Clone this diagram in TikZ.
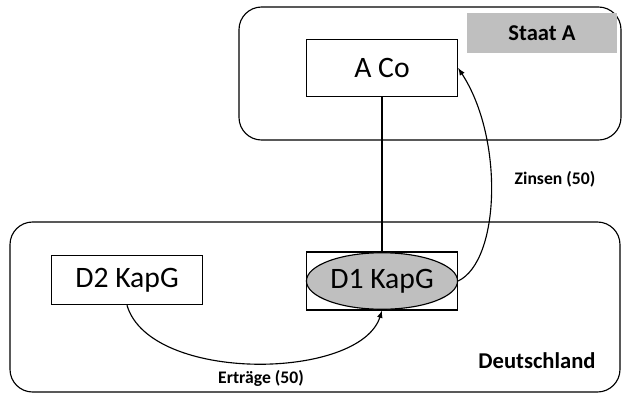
\documentclass[tikz,border=0pt]{standalone}
\usepackage{fontspec}
\setmainfont{Carlito}
\usetikzlibrary{arrows,shapes.geometric}

\begin{document}
\begin{tikzpicture}[x=0.708pt, y=-0.708pt, line width=0.8pt,
  land/.style={draw, rounded corners=16pt},
  firm/.style={draw, inner sep=0pt, minimum width=107pt, font=\fontsize{21}{25}\selectfont},
  flow/.style={font=\bfseries\fontsize{12.5}{15}\selectfont}]
  \useasboundingbox (0,0) rectangle (622,394);
  % Staaten
  \draw[land] (239,7) rectangle (621,140);
  \draw[land] (10,222) rectangle (620,392);
  \node[fill=black!25, minimum width=106pt, minimum height=28pt, font=\bfseries\fontsize{16}{19}\selectfont] (staat) at (542,33) {Staat A};
  \node[font=\bfseries\fontsize{16}{19}\selectfont] (de) at (537,361) {Deutschland};
  % Gesellschaften
  \node[firm, minimum height=40pt] (aco) at (382,68) {A Co};
  \node[firm, minimum height=35pt] (d2) at (127,280) {D2 KapG};
  \node[draw, minimum width=107pt, minimum height=41pt] (d1) at (382,281) {};
  \node[firm, ellipse, fill=black!25, minimum height=40pt] (d1e) at (382,281) {D1 KapG};
  \draw (aco) -- (d1);
  \draw[-latex] (d1e.east) .. controls +(42,-20) and +(46,70) .. (aco.east);
  \draw[-latex] (d2.south) .. controls +(23,78) and +(-22,70) .. (d1.south);
  \node[flow] (zins) at (555,179) {Zinsen (50)};
  \node[flow] (ertrag) at (261,378) {Erträge (50)};
\end{tikzpicture}
\end{document}
